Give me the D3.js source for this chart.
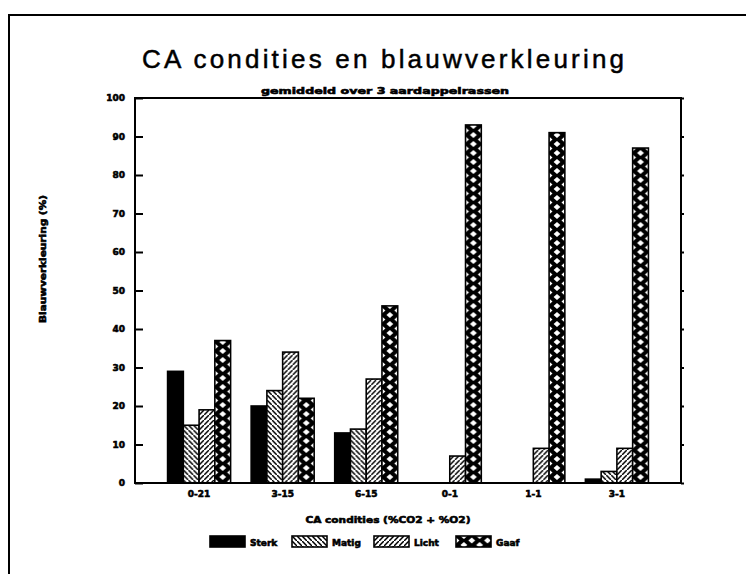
<!DOCTYPE html>
<html>
<head>
<meta charset="utf-8">
<script src="https://cdn.jsdelivr.net/npm/d3@7"></script>
<style>
  html, body { margin: 0; padding: 0; background: #fff; }
</style>
</head>
<body>
<script>
// CA condities en blauwverkleuring: gegroepeerde staven per CA conditie
const groups = ["0-21", "3-15", "6-15", "0-1", "1-1", "3-1"];
const seriesNames = ["Sterk", "Matig", "Licht", "Gaaf"];
const sterk = [29, 20, 13, 0, 0, 1];
const matig = [15, 24, 14, 0, 0, 3];
const licht = [19, 34, 27, 7, 9, 9];
const gaaf = [37, 22, 46, 93, 91, 87];
const yTicks = [0, 10, 20, 30, 40, 50, 60, 70, 80, 90, 100];

const seriesValues = {Sterk: sterk, Matig: matig, Licht: licht, Gaaf: gaaf};
const fills = {Sterk: "#000", Matig: "url(#matig)", Licht: "url(#licht)", Gaaf: "url(#gaaf)"};

const width = 746, height = 574;
const plot = {left: 135, right: 681, top: 98, bottom: 483};
const smallFont = "'DejaVu Sans', sans-serif";

const svg = d3.select("body").append("svg")
  .attr("width", width).attr("height", height)
  .attr("viewBox", [0, 0, width, height])
  .style("display", "block");

const x = d3.scaleBand().domain(groups)
  .range([plot.left, plot.right]).paddingInner(0.246).paddingOuter(0.39);
const xs = d3.scaleBand().domain(seriesNames).range([0, x.bandwidth()]);
const y = d3.scaleLinear().domain([0, 100]).range([plot.bottom, plot.top]);

// kleine vette tekst (zoals de plotterletters)
const heavy = sel => sel.attr("font-family", smallFont).attr("font-weight", "bold")
  .attr("font-size", 9).attr("fill", "#000")
  .attr("stroke", "#000").attr("stroke-width", 0.6);

// Patronen
const defs = svg.append("defs");
const hatch = (id, dir) => {
  const p = defs.append("pattern").attr("id", id)
    .attr("patternUnits", "userSpaceOnUse").attr("width", 5).attr("height", 5);
  p.append("rect").attr("width", 5).attr("height", 5).attr("fill", "#fff");
  const d = dir > 0 ? "M-1,6 L6,-1 M-2,1 L1,-2 M4,7 L7,4" : "M-1,-1 L6,6 M-2,4 L1,7 M4,-2 L7,1";
  p.append("path").attr("d", d).attr("stroke", "#000").attr("stroke-width", 1.5);
};
hatch("matig", -1);
hatch("licht", 1);

const bw = xs.bandwidth(), ph = 9;
const gp = defs.append("pattern").attr("id", "gaaf")
  .attr("patternUnits", "userSpaceOnUse").attr("width", bw).attr("height", ph);
gp.append("rect").attr("width", bw).attr("height", ph).attr("fill", "#000");
const diamond = (cx, cy) => `M${cx},${cy - 3} L${cx + 3.4},${cy} L${cx},${cy + 3} L${cx - 3.4},${cy} Z`;
gp.append("path")
  .attr("d", [diamond(bw / 2, 0), diamond(bw / 2, ph), diamond(0, ph / 2), diamond(bw, ph / 2)].join(" "))
  .attr("fill", "#fff");

// Buitenkader
svg.append("path").attr("d", `M9,${height} V15 H${width}`)
  .attr("fill", "none").attr("stroke", "#000").attr("stroke-width", 2);

// Titel
svg.append("text").attr("x", 383).attr("y", 68)
  .attr("text-anchor", "middle").attr("textLength", 482).attr("lengthAdjust", "spacing")
  .attr("font-family", "'Liberation Sans', Arial, sans-serif").attr("font-size", 26)
  .attr("stroke", "#000").attr("stroke-width", 0.5)
  .text("CA condities en blauwverkleuring");
svg.append("text").attr("x", 385).attr("y", 94)
  .attr("text-anchor", "middle").attr("textLength", 248).attr("lengthAdjust", "spacingAndGlyphs")
  .call(heavy)
  .text("gemiddeld over 3 aardappelrassen");

// Staven
for (const s of seriesNames) {
  seriesValues[s].forEach((v, i) => {
    const g = svg.append("g")
      .attr("transform", `translate(${x(groups[i]) + xs(s)},0)`);
    if (v <= 0) return;
    g.append("rect")
      .attr("x", 0).attr("y", y(v))
      .attr("width", bw).attr("height", y(0) - y(v))
      .attr("fill", fills[s]).attr("stroke", "#000").attr("stroke-width", 1.6);
  });
}

// Assen
const styleAxis = g => {
  g.select(".domain").remove();
  g.selectAll("line").attr("stroke", "#000").attr("stroke-width", 2);
  g.selectAll("text").call(heavy);
};
svg.append("g").attr("transform", `translate(${plot.left},0)`)
  .call(d3.axisLeft(y).tickValues(yTicks).tickSizeInner(-8).tickSizeOuter(0).tickPadding(10))
  .call(styleAxis);
svg.append("g").attr("transform", `translate(${plot.right},0)`)
  .call(d3.axisRight(y).tickValues(yTicks).tickSize(3).tickFormat(""))
  .call(styleAxis);
svg.append("g").attr("transform", `translate(0,${plot.bottom})`)
  .call(d3.axisBottom(x).tickSize(0).tickPadding(8))
  .call(styleAxis);

svg.append("rect")
  .attr("x", plot.left).attr("y", plot.top)
  .attr("width", plot.right - plot.left).attr("height", plot.bottom - plot.top)
  .attr("fill", "none").attr("stroke", "#000").attr("stroke-width", 2);

// As-titels
svg.append("text").attr("transform", "translate(46,259) rotate(-90)")
  .attr("text-anchor", "middle").attr("textLength", 128).attr("lengthAdjust", "spacingAndGlyphs")
  .call(heavy)
  .text("Blauwverkleuring (%)");
svg.append("text").attr("x", 388).attr("y", 523)
  .attr("text-anchor", "middle").attr("textLength", 165).attr("lengthAdjust", "spacingAndGlyphs")
  .call(heavy)
  .text("CA condities (%CO2 + %O2)");

// Legenda
const legend = svg.append("g").attr("transform", "translate(210,536)");
seriesNames.forEach((s, i) => {
  const g = legend.append("g").attr("transform", `translate(${i * 82},0)`);
  g.append("rect").attr("width", 35).attr("height", 11)
    .attr("fill", fills[s]).attr("stroke", "#000").attr("stroke-width", 1.6);
  g.append("text").attr("x", 40).attr("y", 9.5)
    .call(heavy)
    .text(s);
});
</script>
</body>
</html>
